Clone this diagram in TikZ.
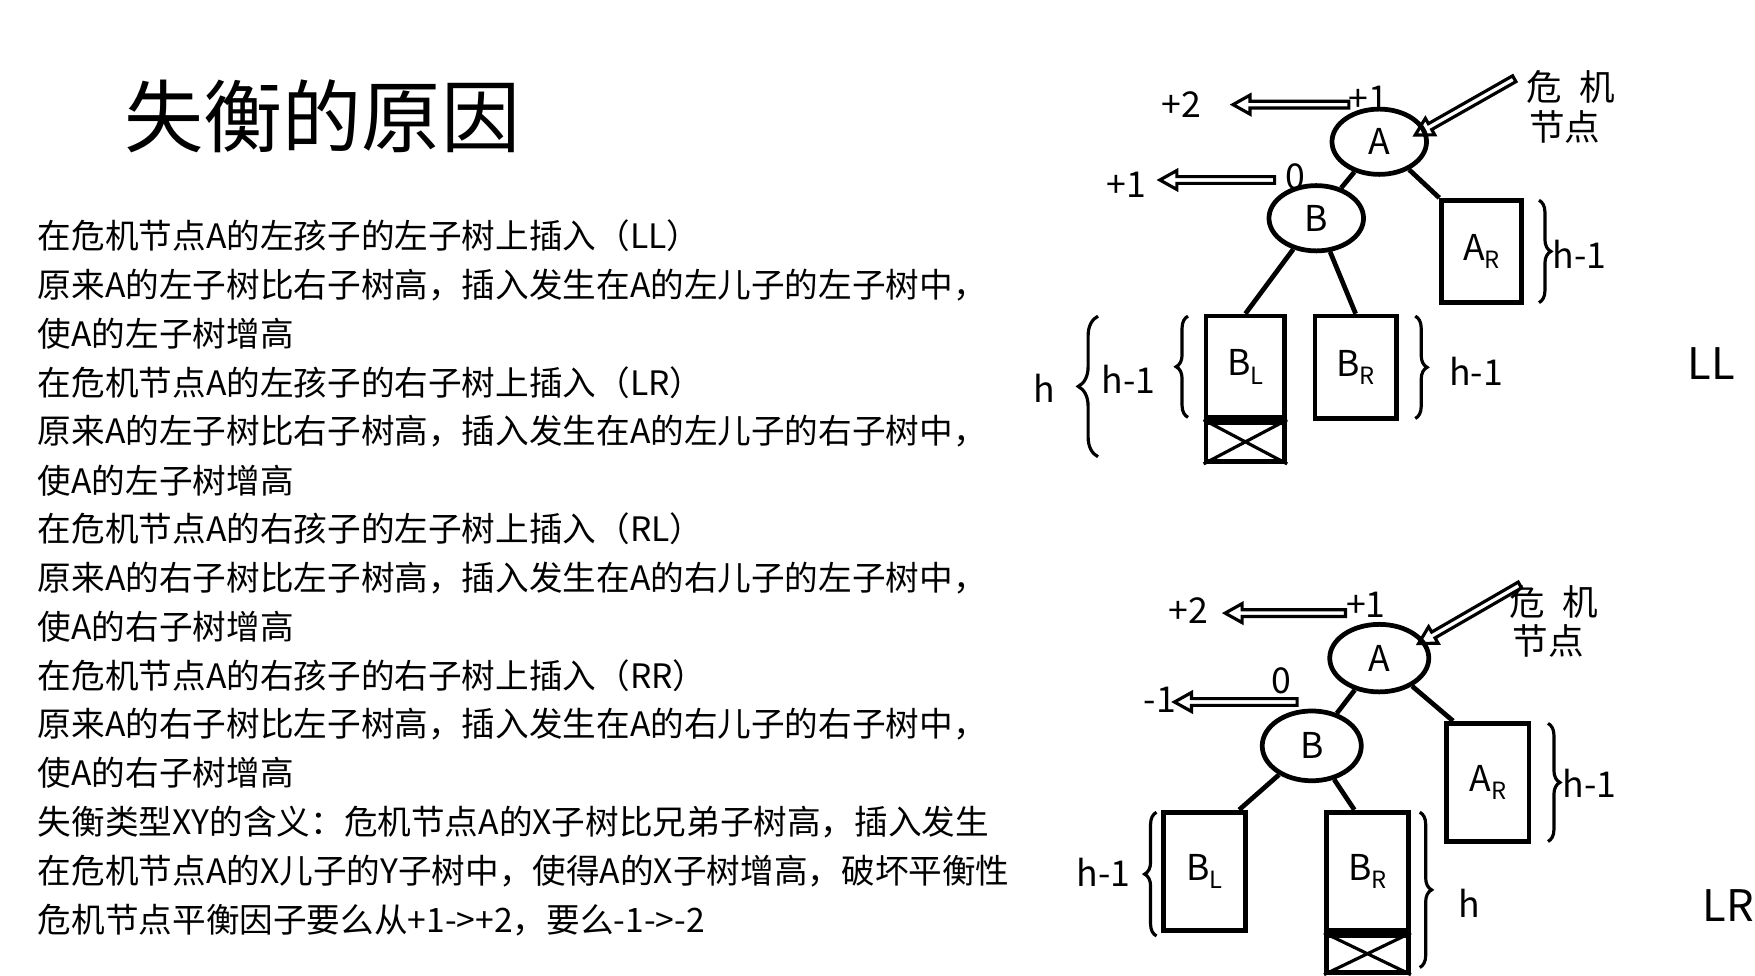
\documentclass[tikz,border=0pt]{standalone}
\usepackage{fontspec}
\setmainfont{Noto Sans CJK SC}
\usetikzlibrary{calc,shapes.geometric,decorations.pathreplacing}
\newcommand{\fatarrow}[2] % {from}{to} hollow arrow
{
	\draw [thick] ($#1!0.85pt!90:#2$) -- ($($#2!4.3pt!#1$)!0.85pt!-90:#1$) -- ($($#2!4.3pt!#1$)!2.4pt!-90:#1$) -- #2
	-- ($($#2!4.3pt!#1$)!2.4pt!90:#1$) -- ($($#2!4.3pt!#1$)!0.85pt!90:#1$) -- ($#1!0.85pt!-90:#2$) -- cycle;
}
\newcommand{\sub}[2]{#1\raisebox{-0.45ex}{\fontsize{6}{6}\selectfont #2}}
\tikzset{
	knot/.style={draw, very thick, ellipse, inner sep=0pt, font=\fontsize{9}{9}\selectfont},
	tree/.style={draw, very thick, inner sep=0pt, font=\fontsize{9}{9}\selectfont},
	lbl/.style={font=\fontsize{9}{9}\selectfont, inner sep=0pt},
	brc/.style={decorate, decoration={brace, amplitude=3pt}, thick},
}
\begin{document}
\begin{tikzpicture}[x=0.01cm, y=-0.01cm]
	\useasboundingbox (0,0) rectangle (1560,867);
	
	\node [anchor=west, inner sep=0pt, font=\fontsize{20}{20}\selectfont] (title) at (110,103) {失衡的原因};
	
	\foreach \t [count=\i] in {在危机节点A的左孩子的左子树上插入（LL）,
		原来A的左子树比右子树高，插入发生在A的左儿子的左子树中，,
		使A的左子树增高,
		在危机节点A的左孩子的右子树上插入（LR）,
		原来A的左子树比右子树高，插入发生在A的左儿子的右子树中，,
		使A的左子树增高,
		在危机节点A的右孩子的左子树上插入（RL）,
		原来A的右子树比左子树高，插入发生在A的右儿子的左子树中，,
		使A的右子树增高,
		在危机节点A的右孩子的右子树上插入（RR）,
		原来A的右子树比左子树高，插入发生在A的右儿子的右子树中，,
		使A的右子树增高,
		失衡类型XY的含义：危机节点A的X子树比兄弟子树高，插入发生,
		在危机节点A的X儿子的Y子树中，使得A的X子树增高，破坏平衡性,
		危机节点平衡因子要么从+1->+2，要么-1->-2}
		\node [anchor=west, inner sep=0pt, font=\fontsize{8.5}{8.5}\selectfont] (line\i) at (33,{166.5+43.4*\i}) {\t};
	
	% LL
	\node [knot, minimum height=0.58cm, minimum width=0.84cm] (A1) at (1226,126) {A};
	\node [knot, minimum height=0.58cm, minimum width=0.84cm] (B1) at (1170,194) {B};
	\node [tree, minimum width=0.71cm, minimum height=0.91cm] (AR1) at (1317,223.5) {\sub{A}{R}};
	\node [tree, minimum width=0.70cm, minimum height=0.90cm] (BL1) at (1107,326) {\sub{B}{L}};
	\node [tree, minimum width=0.72cm, minimum height=0.91cm] (BR1) at (1205,326.5) {\sub{B}{R}};
	\node [tree, minimum width=0.70cm, minimum height=0.35cm, anchor=north] (X1) at (BL1.south) {};
	\draw [thick] (X1.north west) -- (X1.south east) (X1.south west) -- (X1.north east);
	\draw [very thick] (A1) -- (B1);
	\draw [very thick] (A1) -- (AR1.north west);
	\draw [very thick] (B1) -- (BL1.north);
	\draw [very thick] (B1) -- (BR1.north);
	\node [lbl] (p2a) at (1050,93) {+2};
	\node [lbl] (p1a) at (1216,88) {+1};
	\node [lbl] (z1) at (1151,157) {0};
	\node [lbl] (p1b) at (1001,164) {+1};
	\fatarrow{(1199,93)}{(1096,93)}
	\fatarrow{(1133,160)}{(1031,160)}
	\fatarrow{(1346,70)}{(1258,120)}
	\node [lbl] (wj1) at (1396,77) {危\hspace{0.5em}机};
	\node [lbl] (jd1) at (1391,113) {节点};
	\draw [brc] (1368,178) -- (1368,269);
	\node [lbl] (h1) at (1404,226) {h-1};
	\draw [brc] (1056,371) -- (1056,281);
	\node [lbl] (h2) at (1003,337) {h-1};
	\draw [brc, decoration={amplitude=5pt}] (976,406) -- (976,281);
	\node [lbl] (h3) at (928,345) {h};
	\draw [brc] (1258,281) -- (1258,372);
	\node [lbl] (h4) at (1312,330) {h-1};
	\node [lbl, font=\fontsize{11}{11}\selectfont] (LL) at (1521,323) {LL};
	
	% LR
	\node [knot, minimum height=0.60cm, minimum width=0.88cm] (A2) at (1226,585) {A};
	\node [knot, minimum height=0.62cm, minimum width=0.88cm] (B2) at (1166,663) {B};
	\node [tree, minimum width=0.73cm, minimum height=1.05cm] (AR2) at (1322.5,695.5) {\sub{A}{R}};
	\node [tree, minimum width=0.73cm, minimum height=1.05cm] (BL2) at (1070.5,774.5) {\sub{B}{L}};
	\node [tree, minimum width=0.73cm, minimum height=1.05cm] (BR2) at (1215.5,774.5) {\sub{B}{R}};
	\node [tree, minimum width=0.73cm, minimum height=0.33cm, anchor=north] (X2) at (BR2.south) {};
	\draw [thick] (X2.north west) -- (X2.south east) (X2.south west) -- (X2.north east);
	\draw [very thick] (A2) -- (B2);
	\draw [very thick] (A2) -- ($(AR2.north west)!0.1!(AR2.north east)$);
	\draw [very thick] (B2) -- ($(BL2.north west)!0.9!(BL2.north east)$);
	\draw [very thick] (B2) -- ($(BR2.north west)!0.35!(BR2.north east)$);
	\node [lbl] (p2c) at (1056,543) {+2};
	\node [lbl] (p1c) at (1214,538) {+1};
	\node [lbl] (z2) at (1139,605) {0};
	\node [lbl] (m1) at (1031,622) {-1};
	\fatarrow{(1196,545)}{(1089,545)}
	\fatarrow{(1153,624)}{(1044,624)}
	\fatarrow{(1351,520)}{(1261,572)}
	\node [lbl] (wj2) at (1381,535) {危\hspace{0.5em}机};
	\node [lbl] (jd2) at (1376,570) {节点};
	\draw [brc] (1376,643) -- (1376,748);
	\node [lbl] (h5) at (1413,696) {h-1};
	\draw [brc] (1028,832) -- (1028,722);
	\node [lbl] (h6) at (981,775) {h-1};
	\draw [brc] (1262,722) -- (1262,860);
	\node [lbl] (h7) at (1306,803) {h};
	\node [lbl, font=\fontsize{11}{11}\selectfont] (LR) at (1536,805) {LR};
\end{tikzpicture}
\end{document}
